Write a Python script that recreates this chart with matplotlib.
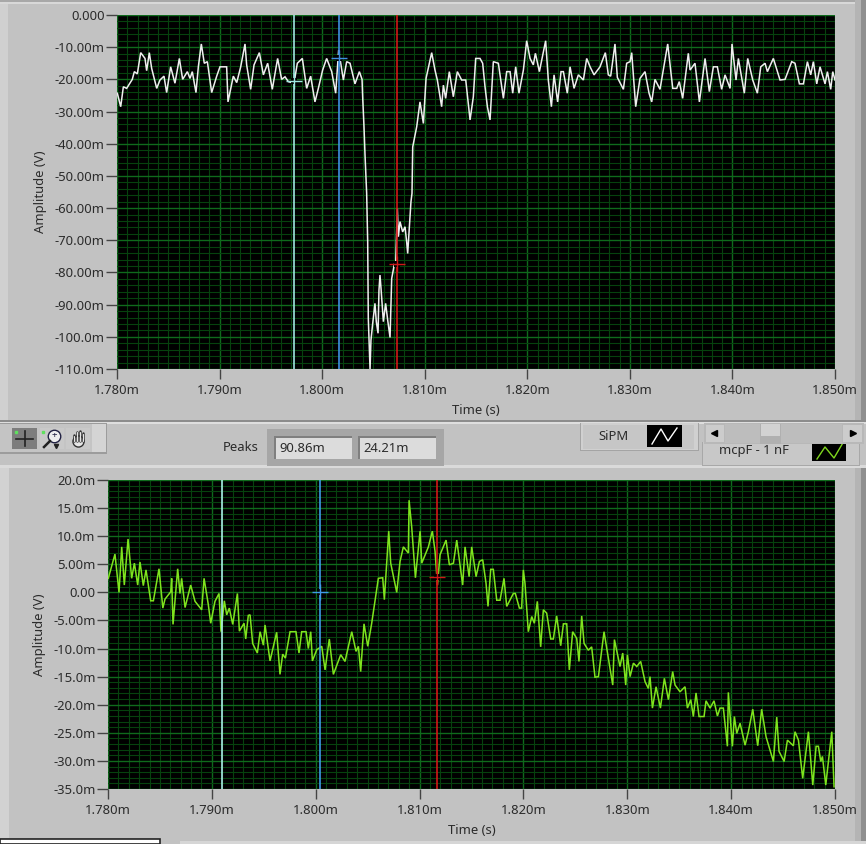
import numpy as np
import matplotlib
matplotlib.use("Agg")
import matplotlib.pyplot as plt
from matplotlib.patches import Rectangle
from matplotlib.ticker import MultipleLocator

plt.rcParams['font.family'] = ['Noto Sans', 'DejaVu Sans']

W, H = 866, 844
T0 = 1.780e-3

# SiPM trace: time after 1.780 ms (microseconds), amplitude (mV)
sipm_t = [0.03,0.36,0.62,0.94,1.49,1.69,1.98,2.31,2.73,2.89,3.15,3.38,3.87,4.19,4.58,4.84,5.23,5.65,6.08,6.4,6.86,7.12,7.34,7.7,7.93,8.22,8.51,8.81,9.23,9.72,10.04,10.69,10.82,11.34,11.67,12.06,12.48,12.64,13.03,13.36,13.88,14.27,14.69,15.14,15.66,16.05,16.38,16.7,17.26,17.58,18.07,18.49,18.88,19.3,19.63,20.05,20.44,20.93,21.32,21.61,22.07,22.39,22.72,23.2,23.63,23.89,23.95,24.08,24.18,24.34,24.44,24.5,24.67,24.76,24.93,25.15,25.28,25.45,25.54,25.64,25.74,25.97,26.19,26.39,26.62,26.78,27.04,27.17,27.33,27.43,27.59,27.85,28.08,28.24,28.34,28.5,28.66,28.76,28.83,29.22,29.54,29.87,30.13,30.68,31.0,31.23,31.65,31.82,32.04,32.4,32.79,33.18,33.6,34.0,34.42,34.74,34.97,35.39,35.65,35.88,36.11,36.37,36.69,37.18,37.67,37.99,38.32,38.58,38.87,39.19,39.62,39.94,40.27,40.59,40.79,41.18,41.79,42.05,42.35,42.61,42.96,43.29,43.52,43.9,44.17,44.56,44.98,45.47,45.79,46.12,46.51,47.09,47.61,47.9,48.13,48.55,48.78,49.37,49.69,50.02,50.18,50.57,50.99,51.48,51.87,52.13,52.45,52.94,53.69,54.18,54.57,54.82,55.15,55.7,55.87,56.35,56.78,57.33,57.75,58.14,58.53,58.95,59.28,59.77,59.96,60.35,60.58,61.16,61.49,61.98,62.43,62.76,63.18,63.41,63.99,64.64,65.13,65.78,66.1,66.53,66.92,67.31,67.63,67.89,68.22,68.54,69.03,69.26,69.58,69.78,70.0]
sipm_v = [-24.3,-28.5,-22.3,-22.8,-20.0,-17.6,-18.3,-11.7,-13.5,-17.3,-11.7,-16.6,-22.8,-20.2,-19.0,-24.1,-16.1,-21.2,-13.5,-20.0,-17.6,-19.7,-17.6,-24.1,-16.1,-9.0,-15.0,-14.5,-24.1,-19.0,-16.1,-16.1,-27.0,-19.0,-21.0,-16.1,-9.0,-15.5,-23.1,-15.5,-11.7,-18.6,-15.0,-23.1,-13.5,-20.0,-19.2,-20.7,-21.2,-15.0,-13.5,-22.8,-19.0,-27.0,-22.8,-17.1,-13.5,-17.6,-24.3,-10.9,-20.2,-14.5,-15.0,-21.4,-17.6,-20.0,-25.4,-34.7,-43.5,-55.4,-70.5,-94.3,-110.0,-101.0,-95.8,-89.6,-95.3,-98.9,-85.5,-80.8,-85.0,-95.3,-89.6,-94.8,-100.2,-81.9,-77.4,-77.4,-60.1,-68.9,-64.2,-67.4,-65.8,-70.5,-74.1,-65.8,-58.0,-55.4,-41.0,-34.7,-27.0,-33.7,-19.7,-11.7,-17.1,-20.2,-28.5,-21.8,-25.9,-17.6,-25.4,-17.6,-20.2,-20.2,-32.6,-25.4,-13.5,-13.5,-15.0,-22.3,-28.5,-32.6,-14.5,-15.0,-25.9,-17.6,-17.6,-24.3,-16.1,-24.3,-17.1,-8.0,-13.5,-15.5,-11.9,-17.6,-8.0,-20.2,-28.5,-18.6,-27.0,-17.6,-17.6,-24.3,-16.1,-22.8,-18.6,-20.2,-13.5,-16.1,-18.6,-16.1,-11.7,-18.6,-19.0,-9.0,-19.4,-23.1,-15.0,-14.5,-11.7,-28.5,-19.7,-17.6,-24.3,-27.0,-20.0,-23.1,-9.0,-22.8,-22.8,-20.7,-25.9,-11.9,-17.1,-15.0,-27.0,-13.5,-23.8,-16.1,-16.1,-23.1,-18.6,-22.8,-9.0,-20.2,-13.5,-24.3,-13.5,-20.2,-24.3,-16.1,-15.0,-17.6,-13.5,-20.2,-20.0,-14.5,-15.0,-21.4,-21.4,-14.5,-18.6,-14.5,-21.4,-16.1,-21.4,-17.6,-23.1,-17.6,-20.2]

# mcpF - 1 nF trace: time after 1.780 ms (microseconds), amplitude (mV)
mcp_t = [0.03,0.67,1.06,1.32,1.57,1.93,2.28,2.54,2.86,3.08,3.4,3.66,4.11,4.37,4.91,5.28,5.49,6.04,6.13,6.26,6.71,6.93,7.09,7.42,7.96,8.38,9.02,9.25,9.66,9.89,10.3,10.69,10.88,11.2,11.43,11.68,12.01,12.46,12.65,13.1,13.26,13.51,13.68,13.93,14.38,14.64,14.96,15.12,15.6,16.24,16.56,16.82,17.08,17.53,18.1,18.39,18.65,19.07,19.29,19.52,19.68,20.1,20.58,20.9,21.31,21.7,22.41,22.82,23.47,23.88,24.11,24.33,24.65,25.01,25.39,26.03,26.45,26.61,27.03,27.22,27.8,28.12,28.44,28.92,28.99,29.24,29.6,30.05,30.21,30.85,31.23,31.49,31.72,31.97,32.55,32.87,33.26,33.58,34.15,34.38,34.77,35.02,35.44,35.76,36.08,36.4,36.59,36.85,37.1,37.43,37.75,38.13,38.39,39.03,39.22,39.61,39.83,39.99,40.15,40.47,40.8,41.05,41.34,41.66,41.92,42.24,42.63,42.88,43.2,43.59,43.85,44.17,44.42,44.74,45.13,45.35,45.61,45.84,46.25,46.57,46.89,47.22,47.76,48.18,48.6,48.76,49.3,49.56,49.85,50.01,50.27,50.59,50.91,51.29,51.71,52.03,52.19,52.42,52.77,53.19,53.57,53.96,54.37,54.6,55.08,55.56,55.79,56.11,56.36,56.62,56.91,57.39,57.58,57.97,58.35,58.68,58.93,59.25,59.64,59.73,60.12,60.31,60.54,60.86,61.34,61.66,62.08,62.56,62.94,63.36,64.07,64.39,64.61,65.1,65.42,65.99,66.15,66.48,66.89,67.44,67.86,68.18,68.4,68.63,68.79,69.11,69.69,69.91]
mcp_v = [2.5,6.8,0.0,8.1,1.3,9.5,2.5,5.2,1.3,5.4,1.2,4.0,-1.5,-1.5,4.2,-2.8,-1.2,0.1,2.5,-5.7,4.2,-0.2,2.5,-2.7,1.3,-1.6,-3.1,2.5,-2.2,-5.5,-1.6,-0.2,-7.0,-1.5,-4.0,-2.8,-5.7,-0.2,-6.9,-5.5,-8.3,-4.1,-4.0,-9.1,-10.8,-7.0,-9.4,-5.8,-12.2,-7.1,-14.6,-11.0,-11.7,-7.0,-7.0,-10.8,-7.0,-7.0,-10.0,-7.0,-12.2,-10.2,-9.6,-13.8,-8.3,-14.6,-11.1,-12.3,-7.0,-10.5,-9.6,-14.1,-5.6,-9.6,-5.5,2.5,2.6,-1.3,10.9,5.2,0.0,5.5,8.1,7.0,16.4,11.7,2.6,10.9,5.2,8.1,10.9,7.3,1.3,6.7,9.3,4.9,5.2,9.3,1.3,8.1,2.8,8.1,2.8,5.5,5.8,1.6,-2.5,4.1,4.1,-1.4,-1.4,2.5,-2.5,-0.2,-0.2,-2.8,-2.8,4.0,1.6,-7.0,-4.3,-5.5,-1.6,-9.7,-3.1,-3.7,-8.3,-8.3,-4.2,-9.5,-5.6,-5.6,-13.8,-7.0,-8.2,-12.3,-4.2,-9.1,-10.3,-9.7,-15.1,-15.0,-7.0,-11.7,-16.5,-8.4,-13.2,-10.8,-16.5,-11.1,-15.0,-12.6,-13.2,-12.3,-15.9,-17.1,-15.0,-20.6,-16.8,-20.6,-15.3,-19.1,-14.1,-16.5,-17.7,-16.8,-20.6,-19.1,-22.1,-17.9,-22.1,-22.1,-19.3,-20.6,-19.3,-22.0,-20.6,-20.6,-27.4,-17.8,-27.4,-22.1,-25.1,-23.3,-27.2,-24.8,-20.8,-27.3,-20.8,-25.7,-30.1,-22.2,-28.3,-30.1,-26.3,-27.3,-24.8,-26.3,-33.1,-24.8,-34.3,-27.4,-27.4,-30.1,-29.2,-34.3,-24.8,-34.6]

x_tick_labels = ["1.780m","1.790m","1.800m","1.810m","1.820m","1.830m","1.840m","1.850m"]
top_y_ticks = [0,-10,-20,-30,-40,-50,-60,-70,-80,-90,-100,-110]
top_y_labels = ["0.000","-10.00m","-20.00m","-30.00m","-40.00m","-50.00m","-60.00m","-70.00m","-80.00m","-90.00m","-100.0m","-110.0m"]
bot_y_ticks = [20,15,10,5,0,-5,-10,-15,-20,-25,-30,-35]
bot_y_labels = ["20.0m","15.0m","10.0m","5.00m","0.00","-5.00m","-10.0m","-15.0m","-20.0m","-25.0m","-30.0m","-35.0m"]

# cursor positions (ms) and the amplitude (mV) they sit on
top_cursors = [(1.79726, -20.5, '#9fe6e0'), (1.80164, -13.5, '#3f8fe0'), (1.80725, -77.5, '#d01818')]
bot_cursors = [(1.79093, None, '#a8ece6'), (1.80041, 0.0, '#3f9ae8'), (1.81168, 2.7, '#d01818')]
peak_values = ["90.86m", "24.21m"]

GRAY = '#c2c2c2'
TXT = '#2b2b2b'
FS = 9.4

fig = plt.figure(figsize=(W/100, H/100), dpi=100, facecolor=GRAY)

# ---- front-panel chrome, in pixel coordinates ----
bg = fig.add_axes([0, 0, 1, 1], zorder=0)
bg.set_xlim(0, W); bg.set_ylim(H, 0); bg.axis('off')

def box(x0, y0, x1, y1, fc, ec='none', lw=0, z=1):
    bg.add_patch(Rectangle((x0, y0), x1-x0, y1-y0, fc=fc, ec=ec, lw=lw, zorder=z))

box(0, 0, 866, 2, '#a8a8a8'); box(0, 2, 866, 4, '#d8d8d8')
box(0, 4, 8, 420, '#d0d0d0'); box(0, 468, 9, 838, '#d2d2d2')
box(861, 0, 866, 421, '#8f8f8f'); box(861, 466, 866, 844, '#8f8f8f')
box(855, 0, 861, 421, '#b4b4b4'); box(855, 466, 861, 844, '#b4b4b4')
box(0, 420, 866, 422, '#8c8c8c'); box(0, 422, 866, 424, '#dedede')
box(0, 465, 866, 468, '#dadada')
box(0, 839, 160, 844, 'white', '#222222', 1.2)
box(180, 841, 866, 844, '#d6d6d6')

# tool palette
box(0, 423, 107, 454, '#9c9c9c'); box(0, 424, 106, 452, '#c4c4c4'); box(92, 424, 106, 452, '#d4d4d4')
box(12, 428, 37, 449, '#7d7d7d'); box(40, 428, 64, 449, '#c9c9c9'); box(66, 428, 90, 449, '#c9c9c9')
bg.plot([24.5, 24.5], [431, 446], color='#222222', lw=1.2, zorder=2)
bg.plot([16, 33], [438.5, 438.5], color='#222222', lw=1.2, zorder=2)
bg.plot([16], [432], 's', color='#5fe05f', ms=2, zorder=2)
bg.plot([43], [432], 's', color='#5fe05f', ms=2, zorder=2)
bg.plot([54], [436], 'o', mfc='#eeeeee', mec='#222244', ms=9, zorder=2)
bg.plot([50, 44], [441, 447], color='#222222', lw=1.8, zorder=2)
bg.text(54, 435.6, '+', color='#222244', fontsize=7, ha='center', va='center', zorder=3)
bg.plot([56], [446], 'v', color='#222222', ms=3, zorder=2)
# hand tool
bg.plot([78], [441], 'o', mfc='#e6e6e6', mec='#333333', ms=8, zorder=2)
for fx, ftop in zip((73.5, 76.5, 79.5, 82.5), (435, 431.5, 431, 433)):
    bg.plot([fx, fx], [ftop, 441], color='#333333', lw=1.8, zorder=3, solid_capstyle='round')
    bg.plot([fx, fx], [ftop+0.5, 441], color='#e6e6e6', lw=0.8, zorder=4, solid_capstyle='round')

# peaks indicators
bg.text(223, 447.5, 'Peaks', fontsize=FS, color=TXT, va='center', ha='left', zorder=3)
box(267, 429, 444, 466, '#a6a6a6')
box(274, 436, 352, 459, '#7f7f7f'); box(276, 438, 352, 459, '#dcdcdc')
box(358, 436, 436, 459, '#7f7f7f'); box(360, 438, 436, 459, '#dcdcdc')
bg.text(279, 448, peak_values[0], fontsize=FS, color=TXT, va='center', zorder=3)
bg.text(363, 448, peak_values[1], fontsize=FS, color=TXT, va='center', zorder=3)

# plot legend
box(580, 423, 699, 451, '#a4a4a4'); box(581, 423, 698, 450, '#d0d0d0'); box(583, 425, 694, 449, '#c6c6c6')
bg.text(598, 436, 'SiPM', fontsize=FS, color=TXT, va='center', zorder=3)
box(647, 425, 682, 447, 'black', z=2)
bg.plot([652, 661, 668, 677], [444, 429, 441, 428], color='white', lw=1, zorder=3)
box(702, 442, 860, 466, '#a8a8a8'); box(703, 442, 859, 465, '#c8c8c8')
bg.text(719, 450.5, 'mcpF - 1 nF', fontsize=FS, color=TXT, va='center', zorder=3)
box(812, 444, 846, 461, 'black', z=2)
bg.plot([817, 825, 834, 844], [459, 447, 458, 441], color='#7fd61e', lw=1, zorder=3)
box(704, 423, 864, 444, '#b8b8b8', z=4); box(725, 424, 842, 443, '#bdbdbd', z=4)
box(706, 425, 724, 442, '#cccccc', z=4); box(843, 425, 862, 442, '#cccccc', z=4)
box(760, 424, 781, 444, '#b0b0b0', z=5); box(761, 424, 780, 436, '#d2d2d2', z=5)
bg.plot([714], [433], marker='<', color='black', ms=5, zorder=6)
bg.plot([853], [433], marker='>', color='black', ms=5, zorder=6)

# ---- graphs ----
def graph(x0, y0, x1, y1, t, v, colour, ylim, yticks, ylabels, yminor, cursors, label_x):
    ax = fig.add_axes([x0/W, 1-y1/H, (x1-x0)/W, (y1-y0)/H], zorder=2, facecolor='black')
    ax.set_xlim(1.780e-3, 1.850e-3); ax.set_ylim(*ylim)
    ax.set_xticks(np.arange(8)*1e-5 + T0); ax.set_xticklabels(x_tick_labels)
    ax.set_yticks(yticks); ax.set_yticklabels(ylabels)
    ax.xaxis.set_minor_locator(MultipleLocator(1e-6))
    ax.yaxis.set_minor_locator(MultipleLocator(yminor))
    ax.grid(True, which='major', color='#0f6a1c', lw=1.0, zorder=1)
    ax.grid(True, which='minor', color='#06420e', lw=0.8, zorder=0)
    ax.set_axisbelow(True)
    ax.tick_params(axis='x', which='major', length=7, width=1, color='#444444', labelcolor=TXT, labelsize=FS, pad=4)
    ax.tick_params(axis='y', which='major', length=8, width=1, color='#444444', labelcolor=TXT, labelsize=FS, pad=1)
    ax.tick_params(which='minor', length=0)
    for s in ax.spines.values():
        s.set_visible(False)
    ax.plot(T0 + np.array(t)*1e-6, v, color=colour, lw=1.1, zorder=3, solid_joinstyle='miter')
    for cx, cy, c in cursors:
        ax.axvline(cx*1e-3, color=c, lw=1.2, zorder=4)
        if cy is not None:
            ax.plot([cx*1e-3], [cy], marker='s', color='black', ms=4, mew=0, zorder=5)
            ax.plot([cx*1e-3], [cy], marker='+', color=c, ms=11, mew=1, zorder=6)
    ax.set_xlabel('Time (s)', fontsize=FS, color=TXT, labelpad=5)
    ax.set_ylabel('Amplitude (V)', fontsize=FS, color=TXT)
    ax.yaxis.set_label_coords((label_x-x0)/(x1-x0), 0.5)
    return ax

top = graph(117, 15, 835, 369, sipm_t, sipm_v, '#efefef', (-110, 0), top_y_ticks, top_y_labels, 2, top_cursors, 47)
bot = graph(108, 480, 835, 789, mcp_t, mcp_v, '#7fe41e', (-35, 20), bot_y_ticks, bot_y_labels, 1, bot_cursors, 46)

fig.savefig('out.png', dpi=100, facecolor=GRAY)
